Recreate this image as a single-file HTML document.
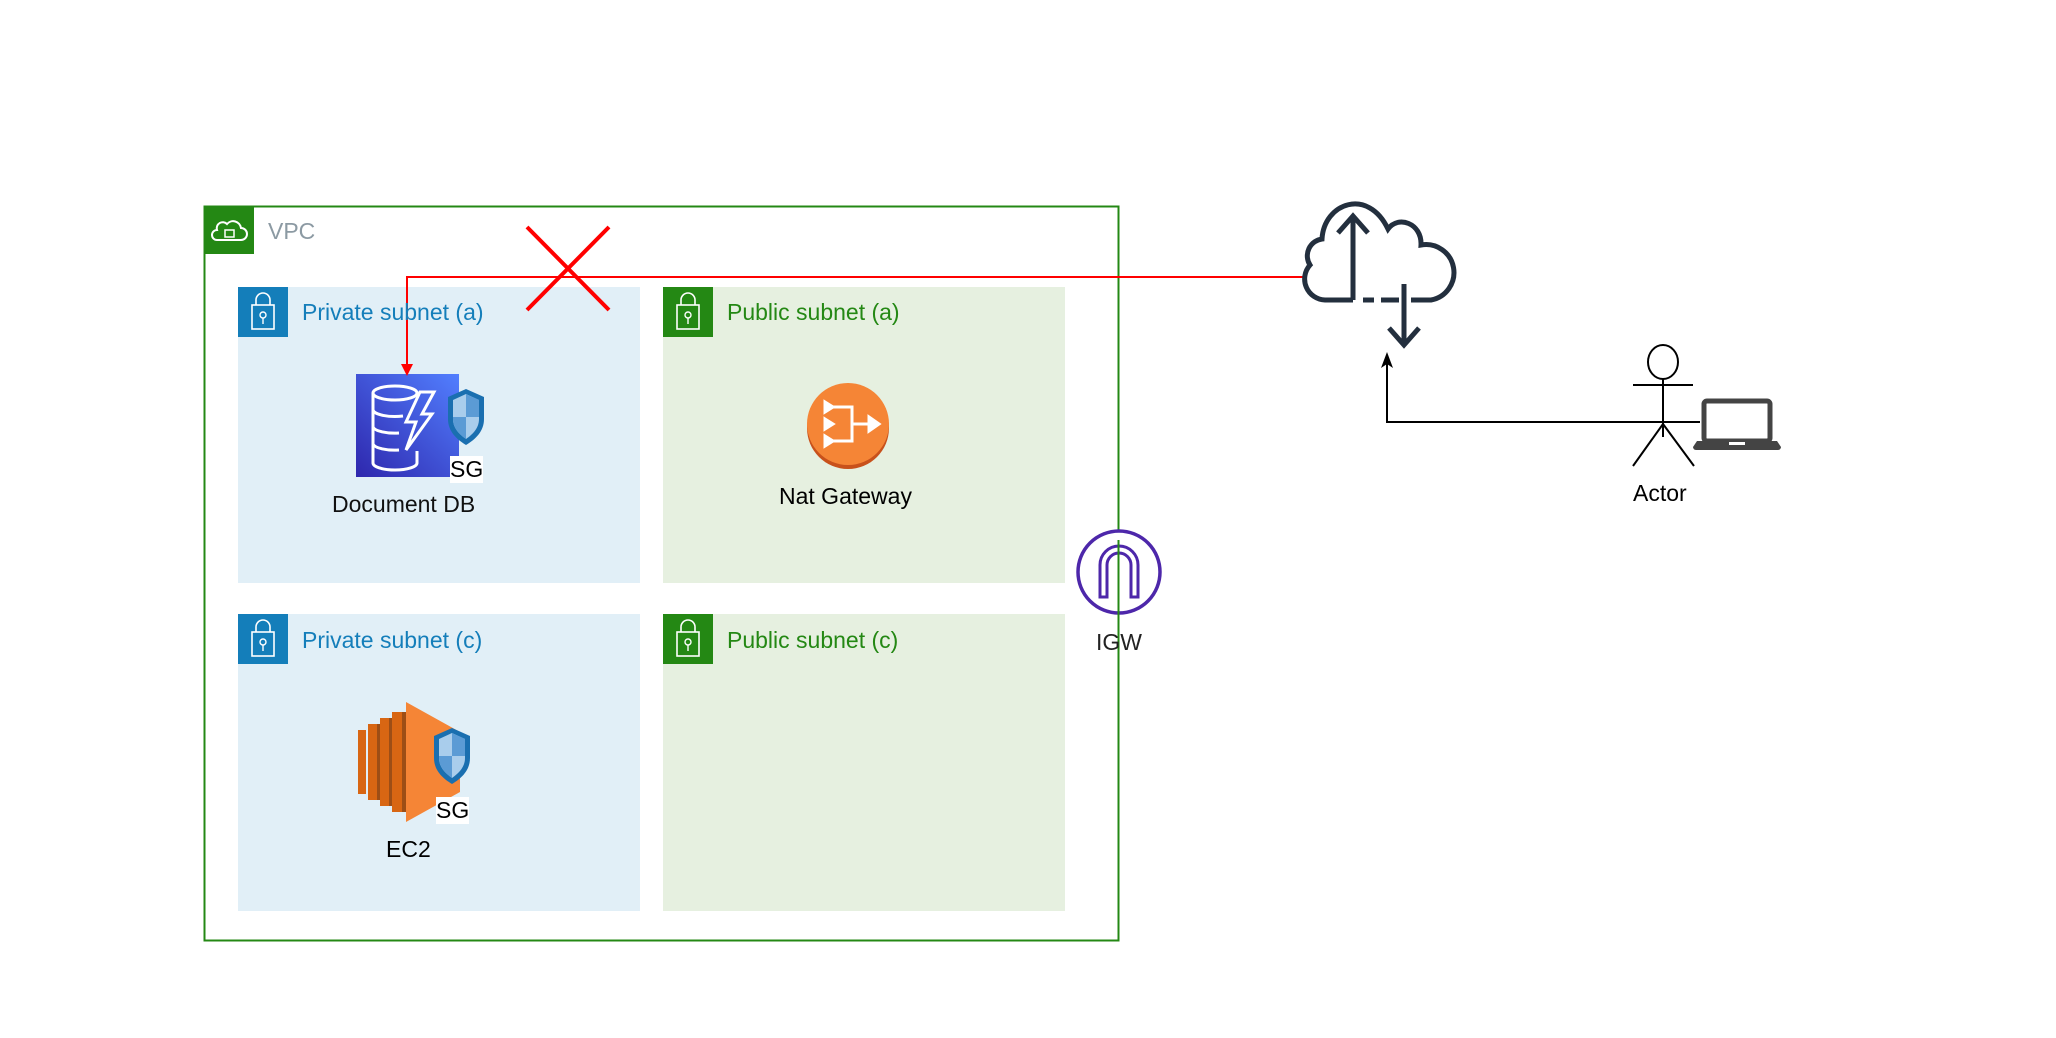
<!DOCTYPE html>
<html><head><meta charset="utf-8"><style>
body{margin:0;background:#fff;width:2056px;height:1038px;overflow:hidden;position:relative;font-family:"Liberation Sans",sans-serif}
.a{position:absolute}
.t{position:absolute;font-size:23px;white-space:nowrap}
</style></head><body>
<svg class="a" style="left:0;top:0" width="2056" height="1038" viewBox="0 0 2056 1038">
<defs>
<linearGradient id="db" x1="0" y1="1" x2="1" y2="0"><stop offset="0" stop-color="#2e27ad"/><stop offset="1" stop-color="#527fff"/></linearGradient>
<g id="lk"><rect x="0" y="0" width="50" height="50" fill="#147eba"/>
<rect x="14" y="18" width="22" height="24" fill="none" stroke="#fff" stroke-width="1.6"/>
<path d="M18 18 v-5 a7 7 0 0 1 14 0 v5" fill="none" stroke="#fff" stroke-width="1.6"/>
<circle cx="25" cy="28" r="3" fill="none" stroke="#fff" stroke-width="1.4"/><line x1="25" y1="31" x2="25" y2="37" stroke="#fff" stroke-width="1.4"/></g>
<g id="lkg"><rect x="0" y="0" width="50" height="50" fill="#248814"/>
<rect x="14" y="18" width="22" height="24" fill="none" stroke="#fff" stroke-width="1.6"/>
<path d="M18 18 v-5 a7 7 0 0 1 14 0 v5" fill="none" stroke="#fff" stroke-width="1.6"/>
<circle cx="25" cy="28" r="3" fill="none" stroke="#fff" stroke-width="1.4"/><line x1="25" y1="31" x2="25" y2="37" stroke="#fff" stroke-width="1.4"/></g>
<g id="sh"><path d="M20 0 l18 8 v22 c0 12-8 20-18 26 c-10-6-18-14-18-26 v-22z" fill="#1a6fb0"/>
<path d="M20 5 l13 6 v19 c0 9-6 15-13 20 c-7-5-13-11-13-20 v-19z" fill="#a9cdec"/>
<path d="M20 5 l13 6 v17 h-13z M7 28 h13 v22 c-7-5-13-11-13-20z" fill="#5b9bd5"/></g>
</defs>
<rect x="204.5" y="206.5" width="914" height="734" fill="none" stroke="#248814" stroke-width="2"/>
<rect x="204" y="206" width="50" height="48" fill="#248814"/>
<path d="M217 240 h24 a6 6 0 0 0 0-12 a8 8 0 0 0-14-4 a6 6 0 0 0-10 6 a5 5 0 0 0 0 10z" fill="none" stroke="#fff" stroke-width="2"/>
<rect x="225" y="230" width="9" height="7" fill="none" stroke="#fff" stroke-width="1.5"/>
<rect x="238" y="287" width="402" height="296" fill="#e1eff7"/>
<rect x="663" y="287" width="402" height="296" fill="#e6f0e0"/>
<rect x="238" y="614" width="402" height="297" fill="#e1eff7"/>
<rect x="663" y="614" width="402" height="297" fill="#e6f0e0"/>
<use href="#lk" x="238" y="287"/><use href="#lk" x="238" y="614"/>
<use href="#lkg" x="663" y="287"/><use href="#lkg" x="663" y="614"/>
<rect x="356" y="374" width="103" height="103" fill="url(#db)"/>
<g fill="none" stroke="#fff" stroke-width="3">
<ellipse cx="395" cy="393" rx="22" ry="7"/><path d="M373 393 v70 a22 7 0 0 0 44 0 v-12"/>
<path d="M373 410 a22 7 0 0 0 30 6 M373 427 a22 7 0 0 0 26 6 M373 444 a22 7 0 0 0 26 6"/>
<path d="M420 392 l-14 30 h10 l-10 28 l26-36 h-10 l12-22z"/></g>
<use href="#sh" x="446" y="389"/>
<circle cx="848" cy="428" r="41" fill="#c8511b"/><circle cx="848" cy="424" r="41" fill="#f58536"/>
<g stroke="#fff" stroke-width="3" fill="#fff"><path d="M826 407 h26 v34 h-26 M852 424 h20" fill="none"/>
<path d="M869 417 l10 7 l-10 7z"/><path d="M825 402 l8 5 l-8 5z M825 419 l8 5 l-8 5z M825 436 l8 5 l-8 5z"/></g>
<path d="M406 702 l54 30 v60 l-54 30z" fill="#f58536"/>
<rect x="392" y="712" width="14" height="100" fill="#d86613"/><rect x="402" y="712" width="4" height="100" fill="#9d4e16"/>
<rect x="380" y="718" width="9" height="88" fill="#d86613"/><rect x="389" y="718" width="3" height="88" fill="#9d4e16"/>
<rect x="368" y="724" width="9" height="76" fill="#d86613"/><rect x="377" y="724" width="3" height="76" fill="#9d4e16"/>
<rect x="358" y="730" width="8" height="64" fill="#d86613"/>
<use href="#sh" x="432" y="728"/>
<circle cx="1119" cy="572" r="41" fill="#fff" stroke="#4d27aa" stroke-width="3.5"/>
<path d="M1100 597 v-32 a19 19 0 0 1 38 0 v32 h-7 v-32 a12 12 0 0 0-24 0 v32z" fill="none" stroke="#4d27aa" stroke-width="3"/>
<line x1="1118.5" y1="540" x2="1118.5" y2="660" stroke="#248814" stroke-width="2"/>
<path d="M1305 277 H407 V366" fill="none" stroke="#f00" stroke-width="2"/>
<path d="M401 364 l6 12 l6-12z" fill="#f00"/>
<path d="M527 227 L609 310 M609 227 L527 310" stroke="#f00" stroke-width="4"/>
<g fill="none" stroke="#232f3e" stroke-width="5">
<path d="M1353 300 h-28 a21 21 0 0 1-15-35 a17 17 0 0 1 12-26 c2-36 46-52 66-10 c10-14 34-6 33 16 a22 22 0 0 1 10 55 h-20"/>
<path d="M1363 300 h11 M1381 300 h18"/>
<path d="M1353 300 v-84 M1338 233 l15-17 l15 17"/>
<path d="M1404 284 v60 M1389 328 l15 17 l15-17"/></g>
<path d="M1700 422 H1387 V362" fill="none" stroke="#000" stroke-width="2"/>
<path d="M1381 368 l6-16 l6 16 l-6-4z" fill="#000"/>
<g fill="none" stroke="#000" stroke-width="2"><ellipse cx="1663" cy="362" rx="15" ry="17"/>
<path d="M1663 379 v58 M1633 385 h60 M1633 466 l30-42 l31 42"/></g>
<rect x="1704" y="401" width="66" height="40" rx="3" fill="none" stroke="#444" stroke-width="5"/>
<path d="M1697 441 h80 l4 6 a3 3 0 0 1-3 3 h-82 a3 3 0 0 1-3-3z" fill="#444"/>
<rect x="1729" y="442" width="16" height="3" fill="#fff"/>
</svg>
<div class="t" style="left:268px;top:218px;color:#8c9aa3">VPC</div>
<div class="t" style="left:302px;top:299px;color:#147eba">Private subnet (a)</div>
<div class="t" style="left:727px;top:299px;color:#248814">Public subnet (a)</div>
<div class="t" style="left:302px;top:627px;color:#147eba">Private subnet (c)</div>
<div class="t" style="left:727px;top:627px;color:#248814">Public subnet (c)</div>
<div class="t" style="left:450px;top:456px;background:#fff;color:#000">SG</div>
<div class="t" style="left:436px;top:797px;background:#fff;color:#000">SG</div>
<div class="t" style="left:332px;top:491px;color:#111">Document DB</div>
<div class="t" style="left:779px;top:483px;color:#000">Nat Gateway</div>
<div class="t" style="left:386px;top:836px;color:#000">EC2</div>
<div class="t" style="left:1096px;top:629px;color:#222">IGW</div>
<div class="t" style="left:1633px;top:480px;color:#000">Actor</div>
</body></html>
